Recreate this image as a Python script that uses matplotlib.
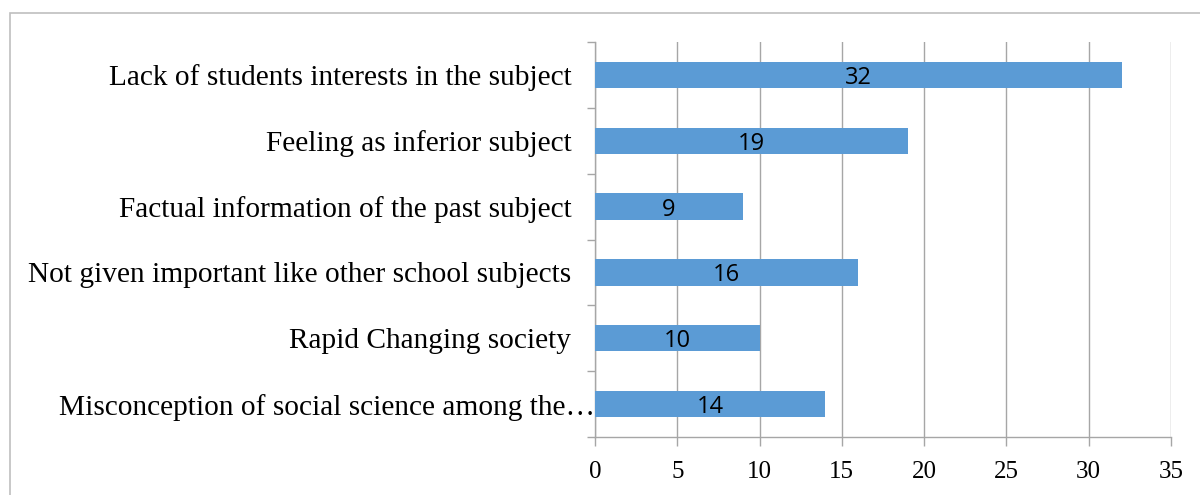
import matplotlib
matplotlib.use("Agg")
import matplotlib.pyplot as plt
from matplotlib.patches import Rectangle
from matplotlib.transforms import ScaledTranslation

categories = [
    "Lack of students interests in the subject",
    "Feeling as inferior subject",
    "Factual information of the past subject",
    "Not given important like other school subjects",
    "Rapid Changing society",
    "Misconception of social science among the\u2026",
]
values = [32, 19, 9, 16, 10, 14]
xticks = [0, 5, 10, 15, 20, 25, 30, 35]

bar_color = "#5B9BD5"
grid_color = "#A6A6A6"

fig = plt.figure(figsize=(12, 4.95), dpi=100)
ax = fig.add_axes([595 / 1200, (495 - 437) / 495, 576 / 1200, 395 / 495])

n = len(categories)
ypos = list(range(n))[::-1]
bars = ax.barh(ypos, values, height=0.4, color=bar_color, zorder=3)

for y, v in zip(ypos, values):
    ax.text(v / 2, y, str(v), ha="center", va="center_baseline", fontsize=17,
            family=["Open Sans", "DejaVu Sans"], color="black", zorder=4)

ax.set_xlim(0, 35)
ax.set_ylim(-0.5, n - 0.5)
ax.set_xticks(xticks)
ax.set_xticklabels([str(t) for t in xticks], family="Liberation Serif", fontsize=18)
ax.set_yticks(ypos)
ax.set_yticklabels(categories, family="Liberation Serif", fontsize=21.2)
ax.tick_params(axis="y", length=0, pad=17)
ax.set_yticks([i - 0.5 for i in range(n + 1)], minor=True)
ax.tick_params(axis="y", which="minor", length=6, width=1, color=grid_color, direction="out")
ax.tick_params(axis="x", length=6.5, width=1, color=grid_color, direction="out", pad=11)

# the truncated last label overflows toward the axis, as in the reference
last = ax.get_yticklabels()[-1]
last.set_transform(last.get_transform() + ScaledTranslation(24 / 100, 0, fig.dpi_scale_trans))

ax.grid(axis="x", color=grid_color, linewidth=1, zorder=0)
for s in ["top", "right"]:
    ax.spines[s].set_visible(False)
for s in ["left", "bottom"]:
    ax.spines[s].set_color(grid_color)
    ax.spines[s].set_linewidth(1)

fig.patches.append(Rectangle((10 / 1200, -0.1), 1.2, (495 - 13) / 495 + 0.1,
                             transform=fig.transFigure, fill=False,
                             edgecolor="#BFBFBF", linewidth=1.2))

fig.savefig("out.png", dpi=100)
